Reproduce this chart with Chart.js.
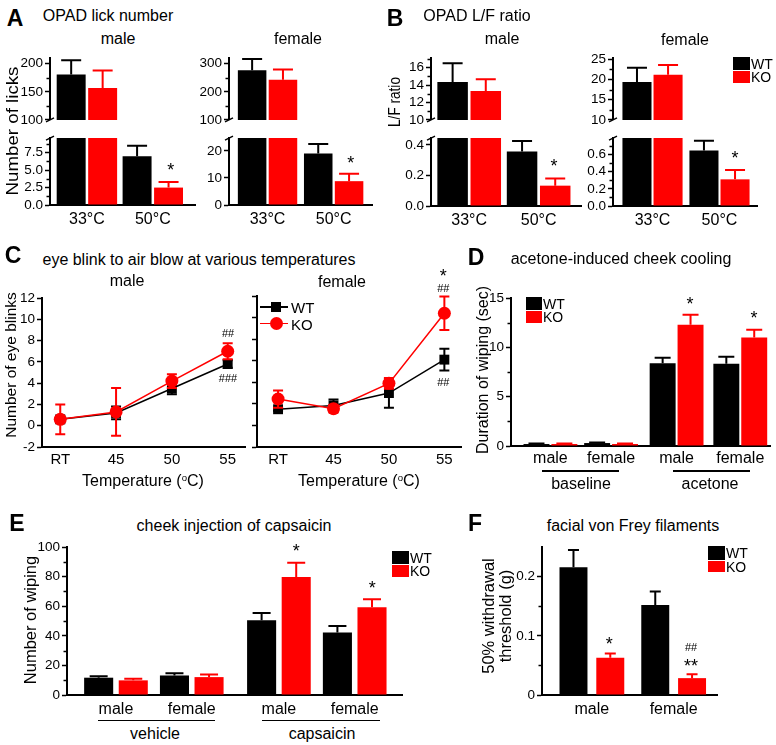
<!DOCTYPE html>
<html>
<head>
<meta charset="utf-8">
<script src="https://cdn.jsdelivr.net/npm/chart.js@4.4.1/dist/chart.umd.min.js"></script>
<style>
  body { margin: 0; background: #fff; }
  #fig { position: relative; width: 776px; height: 745px; overflow: hidden;
         font-family: "Liberation Sans", Arial, Helvetica, sans-serif; color: #000; }
  #fig canvas { position: absolute; }
  .t { position: absolute; white-space: nowrap; line-height: 1; transform: translate(-50%, -50%); }
  .sq { position: absolute; }
  .sup { font-size: .6em; position: relative; top: -.55em; }
</style>
</head>
<body>
<div id="fig"></div>
<script>
// ---- data ----
// A: OPAD lick number
let tempGroups = ['33°C', '50°C'];
let licksMaleWT = [181, 7.0],    licksMaleWTErr = [25, 1.5];
let licksMaleKO = [157, 2.5],    licksMaleKOErr = [31, 0.8];
let licksFemaleWT = [277, 19.0], licksFemaleWTErr = [40, 3.5];
let licksFemaleKO = [243, 8.8],  licksFemaleKOErr = [36, 2.7];
let licksMaleTopTicks = [100, 150, 200], licksMaleLowTicks = [0, 2.5, 5, 7.5];
let licksFemaleTopTicks = [100, 200, 300], licksFemaleLowTicks = [0, 5, 10, 15, 20];

// B: OPAD L/F ratio
let ratioMaleWT = [14.35, 0.357],  ratioMaleWTErr = [2.15, 0.068];
let ratioMaleKO = [13.33, 0.133],  ratioMaleKOErr = [1.34, 0.047];
let ratioFemaleWT = [19.4, 0.645], ratioFemaleWTErr = [3.5, 0.115];
let ratioFemaleKO = [21.2, 0.31],  ratioFemaleKOErr = [2.4, 0.11];
let ratioMaleTopTicks = [10, 12, 14, 16], ratioMaleLowTicks = [0, 0.1, 0.2, 0.3, 0.4];
let ratioFemaleTopTicks = [10, 15, 20, 25], ratioFemaleLowTicks = [0, 0.2, 0.4, 0.6];

// C: eye blinks vs temperature
let temps = ['RT', '45', '50', '55'];
let blinkMaleWT = [0.6, 1.2, 3.5, 5.8],    blinkMaleWTErr = [0.3, 0.6, 0.55, 0.35];
let blinkMaleKO = [0.6, 1.3, 4.2, 7.0],    blinkMaleKOErr = [1.4, 2.25, 0.65, 0.75];
let blinkFemaleWT = [1.5, 1.85, 3.0, 6.1], blinkFemaleWTErr = [0.15, 0.55, 1.35, 1.0];
let blinkFemaleKO = [2.45, 1.55, 3.9, 10.4], blinkFemaleKOErr = [0.8, 0.35, 0.5, 1.55];
let blinkTicks = [-2, 0, 2, 4, 6, 8, 10, 12];

// D: acetone cheek cooling
let sexGroups = ['male', 'female', 'male', 'female'];
let coolWT = [0.2, 0.3, 8.4, 8.35], coolWTErr = [0.05, 0.05, 0.55, 0.7];
let coolKO = [0.2, 0.2, 12.3, 11.0], coolKOErr = [0.05, 0.05, 1.0, 0.8];
let coolTicks = [0, 5, 10, 15];

// E: capsaicin injection
let capWT = [11.7, 13.2, 50.5, 42.2], capWTErr = [1.0, 1.5, 4.9, 4.4];
let capKO = [9.9, 12.1, 79.8, 59.3],  capKOErr = [1.1, 1.7, 9.7, 5.5];
let capTicks = [0, 20, 40, 60, 80, 100];

// F: von Frey
let sexes = ['male', 'female'];
let vfWT = [0.216, 0.152], vfWTErr = [0.029, 0.023];
let vfKO = [0.063, 0.0285], vfKOErr = [0.007, 0.0065];
let vfTicks = [0, 0.1, 0.2];

// ---- setup ----
const fig = document.getElementById('fig');
Chart.defaults.font.family = '"Liberation Sans", Arial, Helvetica, sans-serif';
Chart.defaults.color = '#000';
Chart.defaults.animation = false;
Chart.defaults.plugins.legend.display = false;
Chart.defaults.plugins.tooltip.enabled = false;

// error bars, drawn just before their own dataset
const errBars = {
  id: 'errBars',
  beforeDatasetDraw(chart, args, opts) {
    const ds = chart.data.datasets[args.index];
    if (!ds.err) return;
    const ctx = chart.ctx, a = chart.chartArea, y = chart.scales.y;
    const half = (opts.cap || 10) / 2;
    ctx.save();
    ctx.beginPath();
    ctx.rect(a.left - 30, a.top - (opts.clipTop || 0), a.right - a.left + 60, a.bottom - a.top + (opts.clipTop || 0));
    ctx.clip();
    ctx.strokeStyle = ds.borderColor;
    ctx.lineWidth = 2;
    args.meta.data.forEach((el, j) => {
      const v = ds.data[j].y, e = ds.err[j];
      const yt = y.getPixelForValue(v + e);
      const yb = opts.both ? y.getPixelForValue(v - e) : el.y;
      ctx.beginPath();
      ctx.moveTo(el.x, yb); ctx.lineTo(el.x, yt);
      ctx.moveTo(el.x - half, yt); ctx.lineTo(el.x + half, yt);
      if (opts.both) { ctx.moveTo(el.x - half, yb); ctx.lineTo(el.x + half, yb); }
      ctx.stroke();
    });
    ctx.restore();
  }
};

// short unlabeled ticks on the y axis
const minorTicks = {
  id: 'minorTicks',
  afterDraw(chart, args, opts) {
    if (!opts.values || !opts.values.length) return;
    const ctx = chart.ctx, a = chart.chartArea, y = chart.scales.y;
    ctx.save();
    ctx.strokeStyle = '#000';
    ctx.lineWidth = 1.5;
    opts.values.forEach(v => {
      const p = Math.round(y.getPixelForValue(v)) + 0.5;
      ctx.beginPath(); ctx.moveTo(a.left - 1, p); ctx.lineTo(a.left - 3.5, p); ctx.stroke();
    });
    ctx.restore();
  }
};

// slash on the y axis where it is broken
const breakMark = {
  id: 'breakMark',
  afterDraw(chart, args, opts) {
    if (!opts.at) return;
    const ctx = chart.ctx, a = chart.chartArea;
    const y0 = opts.at === 'bottom' ? a.bottom : a.top;
    ctx.save();
    ctx.strokeStyle = '#000';
    ctx.lineWidth = 1.5;
    ctx.beginPath(); ctx.moveTo(a.left - 4, y0 + 2); ctx.lineTo(a.left + 4, y0 - 2); ctx.stroke();
    ctx.restore();
  }
};
Chart.register(errBars, minorTicks, breakMark);

function addCanvas(o) {
  const c = document.createElement('canvas');
  c.width = o.r - o.l + o.ml + o.mr;
  c.height = o.b - o.t + o.mt + o.mb;
  c.style.left = (o.l - o.ml) + 'px';
  c.style.top = (o.t - o.mt) + 'px';
  fig.appendChild(c);
  return c;
}

function yScale(o) {
  return {
    min: o.yMin, max: o.yMax, z: 1,
    afterBuildTicks: s => { s.ticks = o.yTicks.map(v => ({value: v})); },
    afterFit: s => { s.width = o.ml; },
    ticks: {display: o.yLabels !== false, callback: v => o.fmt ? o.fmt(v) : String(v), font: {size: 13.5}, padding: 2},
    grid: {display: true, drawOnChartArea: false, drawTicks: true, tickLength: 5, tickWidth: 1.5, tickColor: '#000'},
    border: {display: true, color: '#000', width: 2}
  };
}

function xScale(o) {
  return {
    type: 'linear', offset: false, min: o.xMin, max: o.xMax, z: 1,
    afterBuildTicks: s => { s.ticks = o.slots.map(v => ({value: v})); },
    afterFit: s => { s.height = o.mb; },
    ticks: {display: !!o.xLabels, callback: (v, i) => o.xLabels ? o.xLabels[i] : '',
            autoSkip: false, maxRotation: 0, font: {size: o.xFont || 16}, padding: o.xPad || 5},
    grid: {display: false, drawTicks: false},
    border: {display: !!o.xLabels, color: '#000', width: 2}
  };
}

function barChart(o) {
  const cv = addCanvas(o);
  const pts = vals => vals.map((v, i) => ({x: o.slots[i], y: v}));
  return new Chart(cv, {
    type: 'bar',
    data: {datasets: [
      {label: 'WT', data: pts(o.wt), err: o.wtErr, backgroundColor: '#000', borderColor: '#000', clip: 0},
      {label: 'KO', data: pts(o.ko), err: o.koErr, backgroundColor: '#ff0000', borderColor: '#ff0000', clip: 0}
    ]},
    options: {
      responsive: false, events: [],
      layout: {padding: {left: 0, top: o.mt, right: o.mr, bottom: 0}},
      datasets: {bar: {categoryPercentage: o.cat, barPercentage: o.bar, borderWidth: 0}},
      plugins: {errBars: {cap: o.cap, clipTop: o.clipTop ?? 3}, minorTicks: {values: o.minor || []}, breakMark: {at: o.brk || ''}},
      scales: {x: xScale(o), y: yScale(o)}
    }
  });
}

function lineChart(o) {
  const cv = addCanvas(o);
  const pts = vals => vals.map((v, i) => ({x: o.slots[i], y: v}));
  return new Chart(cv, {
    type: 'line',
    data: {datasets: [
      {label: 'WT', data: pts(o.wt), err: o.wtErr, borderColor: '#000', backgroundColor: '#000',
       pointStyle: 'rect', pointRadius: 7, pointBorderWidth: 0, borderWidth: 1.5, order: 1},
      {label: 'KO', data: pts(o.ko), err: o.koErr, borderColor: '#ff0000', backgroundColor: '#ff0000',
       pointStyle: 'circle', pointRadius: 6.5, pointBorderWidth: 0, borderWidth: 1.5, order: 0}
    ]},
    options: {
      responsive: false, events: [],
      layout: {padding: {left: 0, top: o.mt, right: o.mr, bottom: 0}},
      plugins: {errBars: {cap: 10, both: true, clipTop: 3}},
      scales: {x: xScale(o), y: yScale(o)}
    }
  });
}

// ---- panel A ----
const aMale = {l: 50, r: 195, ml: 50, mr: 6, slots: [0, 1], xMin: -0.56, xMax: 1.64, cat: 0.955, bar: 0.92, cap: 20,
               wt: licksMaleWT, wtErr: licksMaleWTErr, ko: licksMaleKO, koErr: licksMaleKOErr};
barChart({...aMale, t: 52, b: 127, mt: 4, mb: 3, yMin: 100, yMax: 210, yTicks: licksMaleTopTicks, minor: [125, 175], brk: 'bottom'});
barChart({...aMale, t: 131, b: 205, mt: 3, mb: 30, yMin: 0, yMax: 9.6, yTicks: licksMaleLowTicks, fmt: v => v.toFixed(1),
          minor: [1.25, 3.75, 6.25, 8.75], brk: 'top', clipTop: 0, xLabels: tempGroups});

const aFemale = {l: 229, r: 372, ml: 50, mr: 6, slots: [0, 1], xMin: -0.583, xMax: 1.58, cat: 0.933, bar: 0.925, cap: 20,
                 wt: licksFemaleWT, wtErr: licksFemaleWTErr, ko: licksFemaleKO, koErr: licksFemaleKOErr};
barChart({...aFemale, t: 52, b: 127, mt: 4, mb: 3, yMin: 100, yMax: 320, yTicks: licksFemaleTopTicks, minor: [150, 250], brk: 'bottom'});
barChart({...aFemale, t: 131, b: 205, mt: 3, mb: 30, yMin: 0, yMax: 24.7, yTicks: licksFemaleLowTicks,
          brk: 'top', clipTop: 0, xLabels: tempGroups});

// ---- panel B ----
const bMale = {l: 431, r: 581, ml: 50, mr: 6, slots: [0, 1], xMin: -0.55, xMax: 1.61, cat: 0.955, bar: 0.92, cap: 20,
               wt: ratioMaleWT, wtErr: ratioMaleWTErr, ko: ratioMaleKO, koErr: ratioMaleKOErr};
barChart({...bMale, t: 52, b: 127, mt: 4, mb: 3, yMin: 10, yMax: 17.1, yTicks: ratioMaleTopTicks, minor: [11, 13, 15, 17], brk: 'bottom'});
barChart({...bMale, t: 131, b: 206, mt: 3, mb: 30, yMin: 0, yMax: 0.444, yTicks: ratioMaleLowTicks, fmt: v => v.toFixed(1),
          brk: 'top', clipTop: 0, xLabels: tempGroups});

const bFemale = {l: 613, r: 757, ml: 40, mr: 6, slots: [0, 1], xMin: -0.59, xMax: 1.56, cat: 0.928, bar: 0.935, cap: 20,
                 wt: ratioFemaleWT, wtErr: ratioFemaleWTErr, ko: ratioFemaleKO, koErr: ratioFemaleKOErr};
barChart({...bFemale, t: 52, b: 127, mt: 4, mb: 3, yMin: 10, yMax: 25.3, yTicks: ratioFemaleTopTicks, minor: [12.5, 17.5, 22.5], brk: 'bottom'});
barChart({...bFemale, t: 131, b: 206, mt: 3, mb: 30, yMin: 0, yMax: 0.79, yTicks: ratioFemaleLowTicks, fmt: v => v.toFixed(1),
          minor: [0.1, 0.3, 0.5, 0.7], brk: 'top', clipTop: 0, xLabels: tempGroups});

// ---- panel C ----
lineChart({l: 42, r: 245, t: 296, b: 447, ml: 42, mr: 8, mt: 8, mb: 28, slots: [0, 1, 2, 3], xMin: -0.327, xMax: 3.31,
           yMin: -2, yMax: 12, yTicks: blinkTicks, xLabels: temps, xFont: 15, xPad: 4,
           wt: blinkMaleWT, wtErr: blinkMaleWTErr, ko: blinkMaleKO, koErr: blinkMaleKOErr});
lineChart({l: 257, r: 461, t: 296, b: 447, ml: 10, mr: 8, mt: 8, mb: 28, slots: [0, 1, 2, 3], xMin: -0.38, xMax: 3.3,
           yMin: -2, yMax: 12, yTicks: blinkTicks, yLabels: false, xLabels: temps, xFont: 15, xPad: 4,
           wt: blinkFemaleWT, wtErr: blinkFemaleWTErr, ko: blinkFemaleKO, koErr: blinkFemaleKOErr});

// ---- panel D ----
barChart({l: 511, r: 770, t: 294, b: 446, ml: 30, mr: 5, mt: 6, mb: 24, slots: [0, 1, 2.08, 3.13], xMin: -0.65, xMax: 3.62,
          cat: 0.92, bar: 0.93, cap: 16, yMin: 0, yMax: 15, yTicks: coolTicks, minor: [2.5, 7.5, 12.5],
          xLabels: sexGroups, xPad: 3, wt: coolWT, wtErr: coolWTErr, ko: coolKO, koErr: coolKOErr});

// ---- panel E ----
barChart({l: 67, r: 402, t: 543, b: 695, ml: 40, mr: 6, mt: 6, mb: 26, slots: [0, 1, 2.15, 3.15], xMin: -0.646, xMax: 3.774,
          cat: 0.913, bar: 0.84, cap: 18, yMin: 0, yMax: 100, yTicks: capTicks, minor: [10, 30, 50, 70, 90],
          xLabels: sexGroups, xPad: 5, wt: capWT, wtErr: capWTErr, ko: capKO, koErr: capKOErr});

// ---- panel F ----
barChart({l: 542, r: 717, t: 543, b: 695, ml: 30, mr: 6, mt: 6, mb: 26, slots: [0, 1], xMin: -0.61, xMax: 1.53,
          cat: 0.9, bar: 0.76, cap: 11, yMin: 0, yMax: 0.25, yTicks: vfTicks, minor: [0.05, 0.15],
          fmt: v => v === 0 ? '0' : v.toFixed(1), xLabels: sexes, xPad: 5,
          wt: vfWT, wtErr: vfWTErr, ko: vfKO, koErr: vfKOErr});

// ---- text ----
function txt(x, y, html, size, opt) {
  opt = opt || {};
  const d = document.createElement('div');
  d.className = 't';
  d.innerHTML = html;
  d.style.left = x + 'px';
  d.style.top = y + 'px';
  d.style.fontSize = size + 'px';
  if (opt.bold) d.style.fontWeight = 'bold';
  if (opt.left) d.style.transform = 'translate(0, -50%)';
  if (opt.rot) d.style.transform = 'translate(-50%, -50%) rotate(-90deg) scaleX(' + (opt.sx || 1) + ')';
  if (opt.lh) { d.style.lineHeight = opt.lh + 'px'; d.style.textAlign = 'center'; }
  fig.appendChild(d);
}
function sq(x, y, w, h, color, round) {
  const d = document.createElement('div');
  d.className = 'sq';
  Object.assign(d.style, {left: x + 'px', top: y + 'px', width: w + 'px', height: h + 'px', background: color});
  if (round) d.style.borderRadius = '50%';
  fig.appendChild(d);
}
const deg = '<span class="sup">o</span>';
const star = (x, y, s) => txt(x, y + 4, s || '*', 18);

// panel letters and titles
txt(15, 17.5, 'A', 23, {bold: true});
txt(108, 16, 'OPAD lick number', 16);
txt(118, 39, 'male', 16);
txt(298, 39, 'female', 16);
txt(12, 131, 'Number of licks', 17, {rot: true, sx: 1.1});

txt(395, 17.5, 'B', 23, {bold: true});
txt(477, 16, 'OPAD L/F ratio', 16);
txt(502, 39, 'male', 16);
txt(685, 40, 'female', 16);
txt(395, 102, 'L/F ratio', 16, {rot: true, sx: 0.85});

txt(13, 255, 'C', 23, {bold: true});
txt(199, 260, 'eye blink to air blow at various temperatures', 16);
txt(127, 281, 'male', 16);
txt(342, 282, 'female', 16);
txt(11, 365, 'Number of eye blinks', 15.5, {rot: true});
txt(143, 481, 'Temperature (' + deg + 'C)', 16);
txt(359, 481, 'Temperature (' + deg + 'C)', 16);

txt(476, 257, 'D', 23, {bold: true});
txt(621, 259, 'acetone-induced cheek cooling', 16);
txt(483, 370, 'Duration of wiping (sec)', 16, {rot: true});
txt(581, 484, 'baseline', 16);
txt(710, 484, 'acetone', 16);
sq(542, 470, 77, 1.5, '#000');
sq(673, 470, 77, 1.5, '#000');

txt(17, 523, 'E', 23, {bold: true});
txt(234, 526, 'cheek injection of capsaicin', 16);
txt(30, 620, 'Number of wiping', 16.5, {rot: true});
txt(155, 734, 'vehicle', 16);
txt(322, 734, 'capsaicin', 16);
sq(98, 719.5, 117, 1.5, '#000');
sq(262, 719.5, 118, 1.5, '#000');

txt(475, 523, 'F', 23, {bold: true});
txt(633, 526, 'facial von Frey filaments', 16);
txt(497, 616, '50% withdrawal<br>threshold (g)', 16.5, {rot: true, lh: 17});

// significance marks
star(170.7, 165.7); star(350.7, 159.3); star(554, 162.3); star(735, 154);
star(443.3, 272.3);
txt(228, 332.7, '##', 11); txt(228, 377.7, '###', 11);
txt(443.3, 287.7, '##', 11); txt(443.3, 382.3, '##', 11);
star(690, 300); star(754, 314);
star(296.2, 546.7); star(372.2, 584);
star(609.3, 640); star(691, 661.7, '**'); txt(691, 646.7, '##', 11);

// legends
function boxLegend(x, y, w, h1, h2, size) {
  sq(x, y, w, h1, '#000');
  sq(x, y + h1 + 1, w, h2, '#ff0000');
  txt(x + w + 1, y + h1 / 2, 'WT', size, {left: true});
  txt(x + w + 1, y + h1 + 1 + h2 / 2, 'KO', size, {left: true});
}
boxLegend(733, 57, 17, 13, 12, 14);
boxLegend(526, 297, 16, 13, 11.5, 14);
boxLegend(392, 551, 17, 13, 12, 14);
boxLegend(708, 546, 17, 14, 11, 14);

// C legend: line with marker
sq(260, 306, 28, 1.5, '#000');
sq(271, 302, 10, 10, '#000');
txt(291, 307, 'WT', 15, {left: true});
sq(260, 322.5, 28, 1.5, '#ff0000');
sq(269.5, 317, 13, 13, '#ff0000', true);
txt(291, 323.5, 'KO', 15, {left: true});
</script>
</body>
</html>
